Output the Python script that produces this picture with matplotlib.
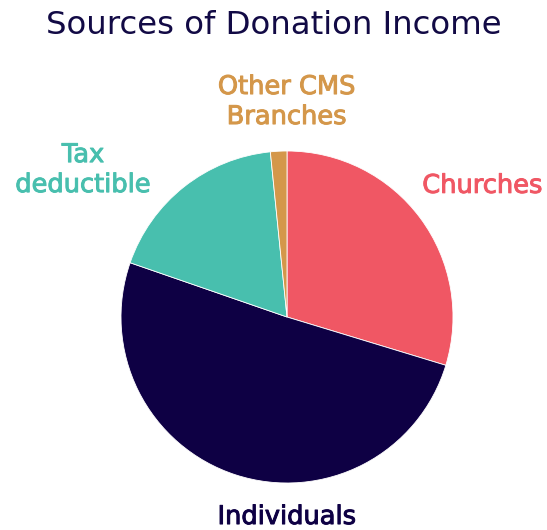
import matplotlib
matplotlib.use("Agg")
import matplotlib.pyplot as plt
import matplotlib.patheffects as pe

categories = ["Churches", "Individuals", "Tax deductible", "Other CMS Branches"]
values = [29.7, 50.6, 18.1, 1.6]
label_texts = ["Churches", "Individuals", "Tax\ndeductible", "Other CMS\nBranches"]
colors = ["#F05764", "#0E0044", "#48BFAE", "#D4974A"]

W, H = 547, 530
fig = plt.figure(figsize=(W / 100, H / 100), dpi=100)
fig.patch.set_facecolor("white")

cx, cy, r = 287, 317, 166
ax = fig.add_axes([(cx - r) / W, (H - cy - r) / H, 2 * r / W, 2 * r / H])
ax.pie(values, colors=colors, startangle=90, counterclock=False,
       radius=1, wedgeprops=dict(linewidth=0.6, edgecolor="white"))
ax.set_xlim(-1, 1)
ax.set_ylim(-1, 1)
ax.set_axis_off()

font = ["DejaVu Sans"]
# label positions in pie units (radius = 1)
label_pos = [(0.815, 0.79, "left"), (0.0, -1.205, "center"),
             (-1.228, 0.885, "center"), (0.0, 1.295, "center")]
for txt, (x, y, ha), c in zip(label_texts, label_pos, colors):
    ax.text(x, y, txt, ha=ha, va="center", color=c, fontsize=18.5,
            fontweight="normal", family=font, clip_on=False,
            linespacing=1.2,
            path_effects=[pe.withStroke(linewidth=0.7, foreground=c)])

fig.text(274 / W, 1 - 25 / H, "Sources of Donation Income", ha="center",
         va="center", color="#120A45", fontsize=23.3, family=font)

fig.savefig("out.png", dpi=100, facecolor="white")
